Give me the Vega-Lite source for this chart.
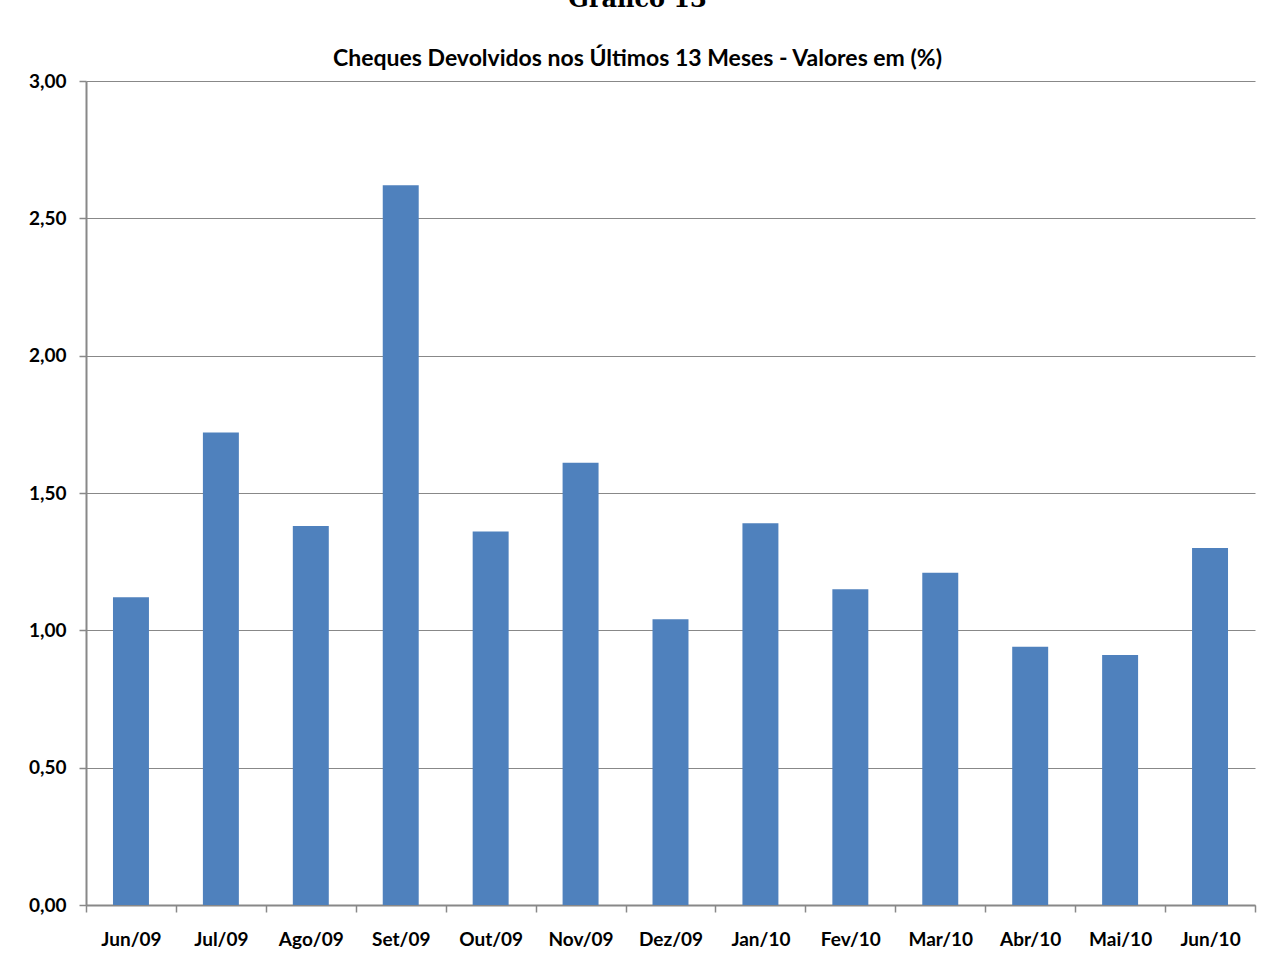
{
  "$schema": "https://vega.github.io/schema/vega-lite/v6.json",
  "width": 1169,
  "height": 824,
  "autosize": {"type": "none"},
  "padding": {"left": 86, "top": 81, "right": 6, "bottom": 57},
  "background": "white",
  "title": {
    "text": "Gráfico 13",
    "subtitle": "Cheques Devolvidos nos Últimos 13 Meses - Valores em (%)",
    "font": "DejaVu Serif",
    "fontSize": 24,
    "fontWeight": "bold",
    "color": "black",
    "subtitleFont": "Lato",
    "subtitleFontSize": 23,
    "subtitleFontWeight": "bold",
    "subtitleColor": "black",
    "subtitlePadding": 36,
    "anchor": "middle",
    "dx": -33,
    "offset": 1
  },
  "data": {
    "values": [
      {"mes": "Jun/09", "valor": 1.12},
      {"mes": "Jul/09", "valor": 1.72},
      {"mes": "Ago/09", "valor": 1.38},
      {"mes": "Set/09", "valor": 2.62},
      {"mes": "Out/09", "valor": 1.36},
      {"mes": "Nov/09", "valor": 1.61},
      {"mes": "Dez/09", "valor": 1.04},
      {"mes": "Jan/10", "valor": 1.39},
      {"mes": "Fev/10", "valor": 1.15},
      {"mes": "Mar/10", "valor": 1.21},
      {"mes": "Abr/10", "valor": 0.94},
      {"mes": "Mai/10", "valor": 0.91},
      {"mes": "Jun/10", "valor": 1.30}
    ]
  },
  "mark": {"type": "bar", "color": "#4F81BD", "width": {"band": 0.4}},
  "encoding": {
    "x": {
      "field": "mes",
      "type": "nominal",
      "sort": null,
      "scale": {"paddingInner": 0, "paddingOuter": 0},
      "axis": {
        "title": null,
        "labelAngle": 0,
        "labelFont": "Lato",
        "labelFontSize": 19,
        "labelFontWeight": "bold",
        "labelColor": "black",
        "labelPadding": 18,
        "tickBand": "extent",
        "tickSize": 7,
        "tickColor": "#888888",
        "tickWidth": 1.5,
        "domainColor": "#888888",
        "domainWidth": 2,
        "grid": false
      }
    },
    "y": {
      "field": "valor",
      "type": "quantitative",
      "scale": {"domain": [0, 3], "nice": false},
      "axis": {
        "title": null,
        "values": [0, 0.5, 1, 1.5, 2, 2.5, 3],
        "labelExpr": "replace(format(datum.value, '.2f'), '.', ',')",
        "labelFont": "Lato",
        "labelFontSize": 19,
        "labelFontWeight": "bold",
        "labelColor": "black",
        "labelPadding": 13,
        "tickSize": 7,
        "tickColor": "#888888",
        "tickWidth": 1.5,
        "domainColor": "#888888",
        "domainWidth": 2,
        "grid": true,
        "gridColor": "#888888",
        "gridWidth": 1.2
      }
    }
  },
  "config": {
    "view": {"stroke": null}
  }
}
